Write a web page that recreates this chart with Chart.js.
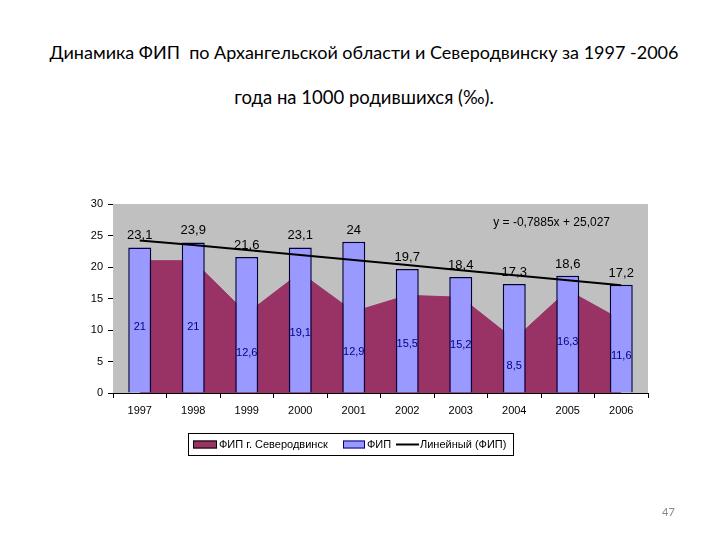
<!DOCTYPE html>
<html>
<head>
<meta charset="utf-8">
<script src="https://cdn.jsdelivr.net/npm/chart.js@4.4.1/dist/chart.umd.min.js"></script>
<style>
  body { margin: 0; background: #fff; }
  #wrap { position: relative; width: 720px; height: 540px; }
  #grafico { position: absolute; left: 0; top: 0; }
  .titulo { position: absolute; left: 0; width: 728px; text-align: center; font-family: Lato, sans-serif; font-size: 18px; color: #000; white-space: pre; }
  #pagina { position: absolute; left: 662px; top: 505px; font-family: Lato, sans-serif; font-size: 11px; color: #888; }
</style>
</head>
<body>
<div id="wrap">
  <div class="titulo" style="top:41px">Динамика ФИП  по Архангельской области и Северодвинску за 1997 -2006</div>
  <div class="titulo" style="top:86px;font-size:18.5px">года на 1000 родившихся (‰).</div>
  <canvas id="grafico" width="720" height="540"></canvas>
  <div id="pagina">47</div>
</div>
<script>
var anos = ['1997', '1998', '1999', '2000', '2001', '2002', '2003', '2004', '2005', '2006'];
var valoresFip = [23.1, 23.9, 21.6, 23.1, 24, 19.7, 18.4, 17.3, 18.6, 17.2];
var valoresSeverodvinsk = [21, 21, 12.6, 19.1, 12.9, 15.5, 15.2, 8.5, 16.3, 11.6];
var valoresTendencia = [24.2, 23.5, 22.7, 21.9, 21.1, 20.3, 19.5, 18.7, 17.9, 17.1];
var marcasY = [0, 5, 10, 15, 20, 25, 30];

var fonte = 'Liberation Sans, Arial, sans-serif';

function formatar(v) {
    return String(v).replace('.', ',');
}

var pluginFundo = {
    id: 'fundo',
    beforeDatasetsDraw: function (chart) {
        var a = chart.chartArea, ctx = chart.ctx;
        ctx.save();
        ctx.fillStyle = '#c0c0c0';
        ctx.fillRect(a.left, a.top, a.right - a.left, a.bottom - a.top);
        ctx.restore();
    }
};

var pluginRotulos = {
    id: 'rotulos',
    afterDatasetsDraw: function (chart) {
        var ctx = chart.ctx;
        var y = chart.scales.y;
        var barras = chart.getDatasetMeta(1).data;
        ctx.save();
        ctx.textAlign = 'center';
        barras.forEach(function (b, i) {
            ctx.fillStyle = '#000';
            ctx.font = '13px ' + fonte;
            ctx.textBaseline = 'alphabetic';
            ctx.fillText(formatar(valoresFip[i]), b.x, b.y - 8);
            ctx.fillStyle = '#000080';
            ctx.font = '11px ' + fonte;
            ctx.textBaseline = 'middle';
            ctx.fillText(formatar(valoresSeverodvinsk[i]), b.x, y.getPixelForValue(valoresSeverodvinsk[i] / 2));
        });
        ctx.fillStyle = '#000';
        ctx.font = '12px ' + fonte;
        ctx.textAlign = 'right';
        ctx.textBaseline = 'middle';
        ctx.fillText('y = -0,7885x + 25,027', chart.chartArea.right - 38, chart.chartArea.top + 19);
        ctx.restore();
    },
    afterDraw: function (chart) {
        // legenda com moldura, como no Excel
        var ctx = chart.ctx;
        ctx.save();
        ctx.strokeStyle = '#000';
        ctx.lineWidth = 1;
        ctx.strokeRect(188.5, 433.5, 325, 22);
        ctx.font = '11px ' + fonte;
        ctx.textBaseline = 'middle';
        var ym = 444.5;
        ctx.fillStyle = '#993366';
        ctx.fillRect(193, ym - 4, 24, 8);
        ctx.strokeRect(193.5, ym - 3.5, 23, 7);
        ctx.fillStyle = '#000';
        ctx.fillText('ФИП г. Северодвинск', 219, ym);
        ctx.fillStyle = '#9999ff';
        ctx.fillRect(343, ym - 4, 22, 8);
        ctx.strokeStyle = '#000080';
        ctx.strokeRect(343.5, ym - 3.5, 21, 7);
        ctx.fillStyle = '#000';
        ctx.fillText('ФИП', 367, ym);
        ctx.strokeStyle = '#000';
        ctx.lineWidth = 2;
        ctx.beginPath();
        ctx.moveTo(396, ym);
        ctx.lineTo(419, ym);
        ctx.stroke();
        ctx.fillText('Линейный (ФИП)', 420, ym);
        ctx.restore();
    }
};

new Chart(document.getElementById('grafico'), {
    type: 'bar',
    data: {
        labels: anos,
        datasets: [{
            type: 'line',
            label: 'Линейный (ФИП)',
            data: valoresTendencia,
            borderColor: '#000',
            borderWidth: 2,
            pointRadius: 0,
            fill: false,
            order: 0
        }, {
            type: 'bar',
            label: 'ФИП',
            data: valoresFip,
            backgroundColor: '#9999ff',
            borderColor: '#000040',
            borderWidth: 1.5,
            barPercentage: 0.43,
            categoryPercentage: 1,
            order: 1
        }, {
            type: 'line',
            label: 'ФИП г. Северодвинск',
            data: valoresSeverodvinsk,
            backgroundColor: '#993366',
            borderColor: '#993366',
            borderWidth: 1,
            pointRadius: 0,
            fill: 'origin',
            order: 2
        }]
    },
    options: {
        responsive: false,
        animation: false,
        layout: { padding: { left: 73, right: 72, top: 204, bottom: 117 } },
        plugins: {
            legend: { display: false },
            tooltip: { enabled: false }
        },
        scales: {
            x: {
                offset: true,
                grid: { offset: true, drawOnChartArea: false, drawTicks: true, tickLength: 5, color: '#000' },
                border: { display: true, color: '#000' },
                ticks: { color: '#000', font: { family: fonte, size: 11 }, padding: 6 },
                afterFit: function (s) { s.height = 30; }
            },
            y: {
                min: 0,
                max: 30,
                afterBuildTicks: function (s) { s.ticks = marcasY.map(function (v) { return { value: v }; }); },
                grid: { drawOnChartArea: false, drawTicks: true, tickLength: 5, color: '#000' },
                border: { display: true, color: '#000' },
                ticks: { color: '#000', font: { family: fonte, size: 11 }, padding: 5 },
                afterFit: function (s) { s.width = 40; }
            }
        }
    },
    plugins: [pluginFundo, pluginRotulos]
});
</script>
</body>
</html>
